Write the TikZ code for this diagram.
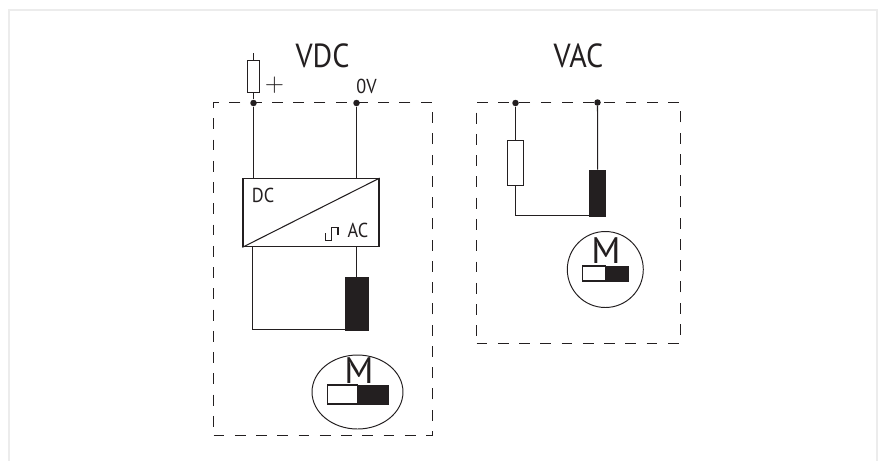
\documentclass[tikz,border=0pt]{standalone}
\usepackage{fontspec}
\setmainfont[FakeStretch=.9]{PT Sans}
\newfontfamily\widefont{PT Sans}
\usepackage{tikz}
\usetikzlibrary{shapes.geometric}

\definecolor{inkgrey}{HTML}{231F20}
\definecolor{framegrey}{HTML}{ECECEC}

\tikzset{
	wire/.style={draw=inkgrey,line width=.6pt},
	dashbox/.style={draw=inkgrey,line width=.55pt,dash pattern=on 6.2pt off 5.9pt},
	dot/.style={circle,fill=inkgrey,inner sep=0pt,minimum size=.13cm},
	resistor/.style={rectangle,draw=inkgrey,fill=white,line width=.6pt,inner sep=0pt},
	coil/.style={rectangle,draw=inkgrey,fill=inkgrey,line width=.4pt,inner sep=0pt},
	bigtext/.style={text=inkgrey,inner sep=0pt,font=\fontsize{19}{21}\selectfont},
	smalltext/.style={text=inkgrey,inner sep=0pt,font=\fontsize{11.5}{13}\selectfont},
	motortext/.style={text=inkgrey,inner sep=0pt,font=\widefont\fontsize{21}{23}\selectfont},
	plustext/.style={text=inkgrey,inner sep=0pt,font=\fontsize{15}{17}\selectfont},
}

\begin{document}
\begin{tikzpicture}
			[x=.02cm,y=-.02cm]
			\useasboundingbox (0,0) rectangle (879,461);
			\draw[framegrey,line width=1pt] (9,461) -- (9,10) -- (877,10) -- (877,461);
			
			% VDC side
			\node[dashbox,minimum width=4.38cm,minimum height=6.66cm,inner sep=0pt] (boxdc) at (323,269) {};
			\node[bigtext] (vdc) at (322.5,56) {VDC};
			\node[plustext] (plus) at (274.5,85.5) {$+$};
			\node[smalltext] (zerov) at (366.5,86) {0V};
			\node[dot] (dcp) at (253.5,103) {};
			\node[dot] (dcn) at (356.5,103) {};
			\coordinate (dctop) at (253.5,53);
			\node[resistor,minimum width=.25cm,minimum height=.63cm] (rdc) at (253.5,76.5) {};
			\node[rectangle,draw=inkgrey,line width=.7pt,inner sep=0pt,minimum width=2.72cm,minimum height=1.36cm] (conv) at (311,212.7) {};
			\node[smalltext] (dclabel) at (263,195) {DC};
			\node[smalltext] (aclabel) at (358,230) {AC};
			\node[coil,minimum width=.46cm,minimum height=1.06cm] (coildc) at (356.5,303.5) {};
			\coordinate (dcloop) at (252.5,329.5);
			\node[ellipse,draw=inkgrey,line width=.55pt,inner sep=0pt,minimum width=1.82cm,minimum height=1.48cm] (motordc) at (357.5,392) {};
			\node[motortext] (mdc) at (359,371) {M};
			\node[resistor,minimum width=.61cm,minimum height=.38cm] (swdcl) at (342.5,394.5) {};
			\node[coil,minimum width=.61cm,minimum height=.38cm] (swdcr) at (373.5,394.5) {};
			
			\draw[wire] (dctop) -- (rdc);
			\draw[wire] (rdc) -- (dcp);
			\draw[wire] (dcp) -- (dcp |- conv.north);
			\draw[wire] (dcn) -- (dcn |- conv.north);
			\draw[wire] (conv.south west) -- (conv.north east);
			\draw[wire] (coildc.north |- conv.south) -- (coildc.north);
			\draw[wire] (conv.south -| dcloop) -- (dcloop) -- (coildc.south west |- dcloop);
			% pulse symbol
			\draw[wire] (325.7,233) -- (325.7,240.5) -- (331.7,240.5) -- (331.7,227.5) -- (338,227.5) -- (338,235);
			
			% VAC side
			\node[dashbox,minimum width=4.08cm,minimum height=4.82cm,inner sep=0pt] (boxac) at (578.5,223) {};
			\node[bigtext] (vac) at (578.5,56) {VAC};
			\node[dot] (acp) at (515.5,103) {};
			\node[dot] (acn) at (597.5,102.5) {};
			\node[resistor,minimum width=.31cm,minimum height=.91cm] (rac) at (515.5,163) {};
			\node[coil,minimum width=.32cm,minimum height=.92cm] (coilac) at (597.7,193) {};
			\coordinate (acloop) at (515.5,215.5);
			\node[circle,draw=inkgrey,line width=.55pt,inner sep=0pt,minimum size=1.52cm] (motorac) at (605.3,269.5) {};
			\node[motortext] (mac) at (606,251) {M};
			\node[resistor,minimum width=.46cm,minimum height=.3cm] (swacl) at (594.2,273.5) {};
			\node[coil,minimum width=.46cm,minimum height=.3cm] (swacr) at (617.2,273.5) {};
			
			\foreach \from/\to in 
			{acp/rac, acn/coilac}
			\draw[wire] (\from) -- (\to);
			\draw[wire] (rac) -- (acloop) -- (coilac.south west |- acloop);
			\end{tikzpicture}
\end{document}
